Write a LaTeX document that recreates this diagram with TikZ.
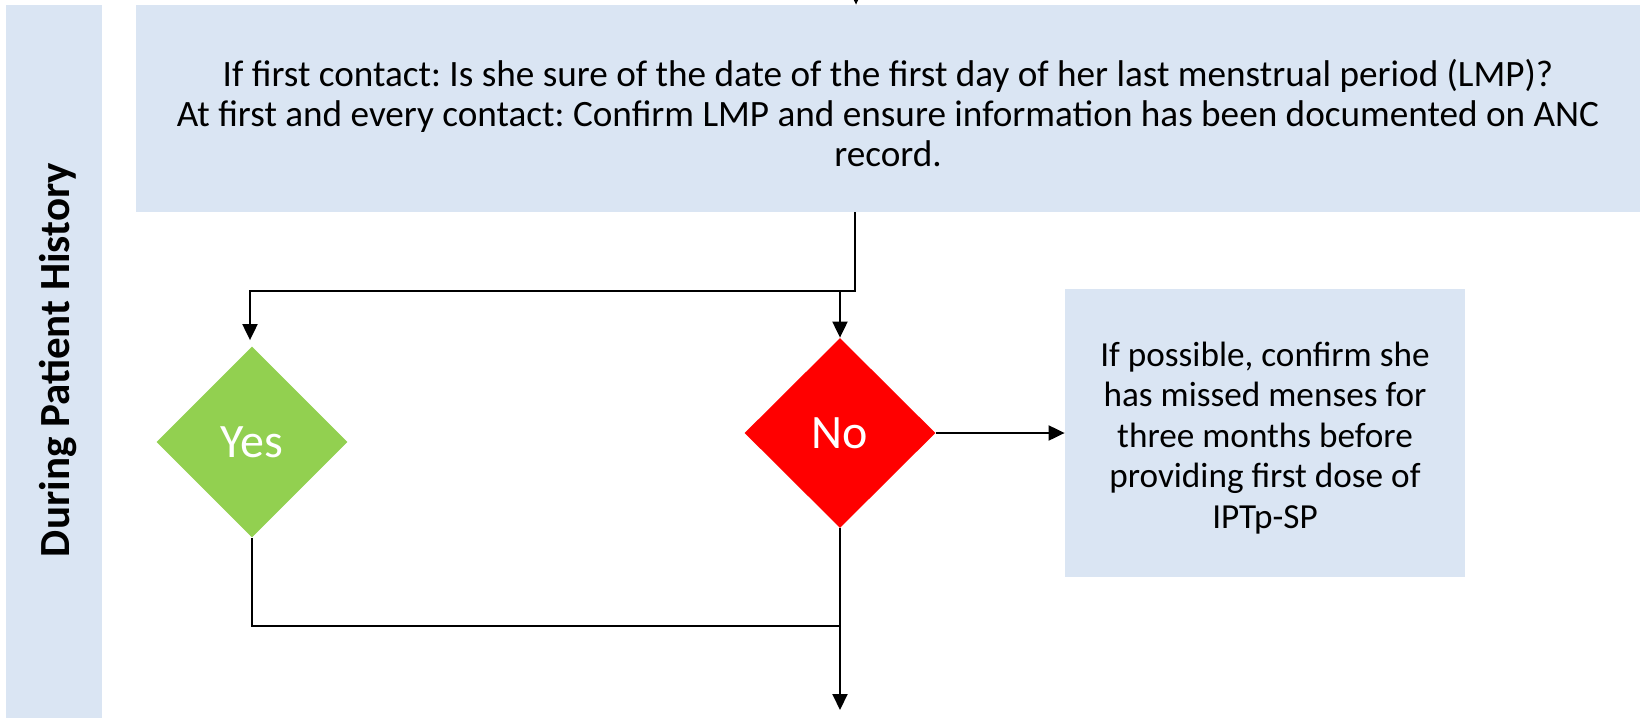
\documentclass[tikz,border=0pt]{standalone}
\usepackage{fontspec}
\setmainfont{Carlito}
\usetikzlibrary{arrows.meta,shapes.geometric,calc}
\definecolor{paleblue}{HTML}{DAE5F3}
\definecolor{yesgreen}{HTML}{92D050}
\definecolor{nored}{HTML}{FF0000}
\tikzset{
  box/.style={fill=paleblue, draw=none, inner sep=0pt},
  boxtext/.style={inner sep=0pt, align=center},
  decision/.style={diamond, aspect=1, inner sep=0pt, draw=none, text=white, font=\fontsize{24}{28}\selectfont},
  conn/.style={draw=black, line width=1pt},
  arr/.style={conn, -{Triangle[width=7.5pt,length=8pt]}},
}
\begin{document}
\frenchspacing
\begin{tikzpicture}[x=0.5pt, y=-0.5pt]
\useasboundingbox (0,0) rectangle (1640,718);
% lane band
\node[box, minimum width=48pt, minimum height=356.5pt] (lane) at (54,361.5) {};
\node[rotate=90, font=\bfseries\fontsize{21.5}{24}\selectfont] (lanelabel) at (58,360) {During Patient History};
% top box
\node[box, minimum width=752pt, minimum height=103.5pt] (top) at (888,108.5) {};
\node[boxtext, font=\fontsize{18.6}{20}\selectfont] (toptext) at (888,113)
  {If first contact: Is she sure of the date of the first day of her last menstrual period (LMP)?\\
   At first and every contact: Confirm LMP and ensure information has been documented on ANC\\
   record.};
% decisions
\node[decision, fill=yesgreen, minimum width=95.5pt, minimum height=95.5pt] (yes) at (252,442) {Yes};
\node[decision, fill=nored, minimum width=95.5pt, minimum height=95pt] (no) at (840,433) {No};
% side box
\node[box, minimum width=200pt, minimum height=144pt] (side) at (1265,433) {};
\node[boxtext, font=\fontsize{17.6}{20.3}\selectfont] (sidetext) at (1265,438)
  {If possible, confirm she\\has missed menses for\\three months before\\providing first dose of\\IPTp-SP};
% coordinates
\coordinate (in) at (856,-40);
\coordinate (j) at (855,291);
\coordinate (jL) at (250,291);
\coordinate (jN) at (840,291);
\coordinate (m) at (840,626);
\coordinate (out) at (840,710);
% connectors
\draw[arr] (in) -- (in |- top.north);
\draw[arr] (top.south -| j) -- (j) -- (jL) -- ([yshift=3pt]jL |- yes.north);
\draw[arr] (jN) -- (no.north);
\draw[conn] (yes.south) |- (m);
\draw[arr] (no.south) -- (out);
\draw[arr] (no.east) -- (side.west);
\end{tikzpicture}
\end{document}
